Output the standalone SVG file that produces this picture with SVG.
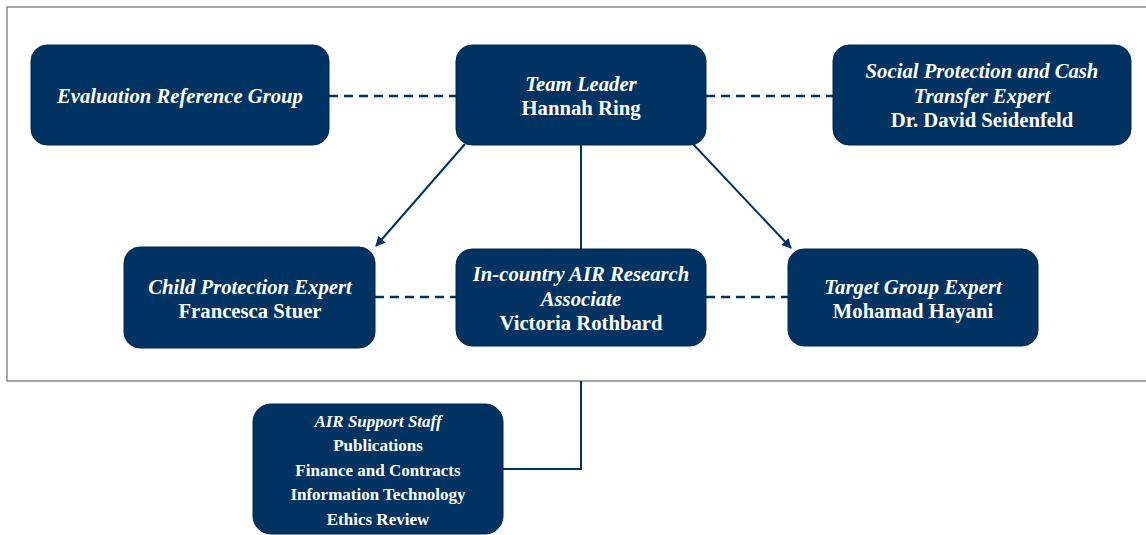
<svg xmlns="http://www.w3.org/2000/svg" width="1146" height="535" viewBox="0 0 1146 535">
<style>
.box{fill:#003361;stroke:#00284d;stroke-width:1}
.t{font-family:"Liberation Serif","Times New Roman",serif;fill:#fff;text-anchor:middle;font-weight:bold}
.i{font-style:italic}
.s{font-size:17px}
.m{font-size:20.7px}
.ln{stroke:#003361;stroke-width:2;fill:none}
.d{stroke:#003361;stroke-width:2.5;fill:none;stroke-dasharray:9 6}
</style>
<defs>
<marker id="ah" viewBox="0 0 10 10" refX="9" refY="5" markerWidth="5" markerHeight="5" orient="auto" markerUnits="strokeWidth">
<path d="M0,0 L10,5 L0,10 z" fill="#003361"/>
</marker>
</defs>
<rect x="7" y="7" width="1150" height="374" fill="#fff" stroke="#8a8a8a" stroke-width="1.5"/>
<g id="connectors">
<line class="d" x1="329" y1="96" x2="456" y2="96"/>
<line class="d" x1="706" y1="96" x2="833" y2="96"/>
<line class="d" x1="375" y1="297" x2="456" y2="297"/>
<line class="d" x1="706" y1="297" x2="788" y2="297"/>
<line class="ln" x1="465" y1="144" x2="376" y2="246" marker-end="url(#ah)"/>
<line class="ln" x1="693" y1="144" x2="791" y2="248" marker-end="url(#ah)"/>
<line class="ln" x1="581" y1="145" x2="581" y2="249"/>
<polyline class="ln" points="581,381 581,469 503,469"/>
</g>
<g id="n-erg">
<rect class="box" x="31" y="45" width="298" height="100" rx="16"/>
<text class="t i m" x="180" y="103">Evaluation Reference Group</text>
</g>
<g id="n-tl">
<rect class="box" x="456" y="45" width="250" height="100" rx="16"/>
<text class="t i m" x="581" y="91">Team Leader</text>
<text class="t m" x="581" y="115">Hannah Ring</text>
</g>
<g id="n-sp">
<rect class="box" x="833" y="45" width="298" height="100" rx="16"/>
<text class="t i m" x="982" y="78">Social Protection and Cash</text>
<text class="t i m" x="982" y="103">Transfer Expert</text>
<text class="t m" x="982" y="127">Dr. David Seidenfeld</text>
</g>
<g id="n-cp">
<rect class="box" x="124" y="247" width="251" height="101" rx="16"/>
<text class="t i m" x="250" y="294">Child Protection Expert</text>
<text class="t m" x="250" y="318">Francesca Stuer</text>
</g>
<g id="n-ic">
<rect class="box" x="456" y="249" width="250" height="97" rx="16"/>
<text class="t i m" x="581" y="281">In-country AIR Research</text>
<text class="t i m" x="581" y="306">Associate</text>
<text class="t m" x="581" y="330">Victoria Rothbard</text>
</g>
<g id="n-tg">
<rect class="box" x="788" y="249" width="250" height="97" rx="16"/>
<text class="t i m" x="913" y="294">Target Group Expert</text>
<text class="t m" x="913" y="318">Mohamad Hayani</text>
</g>
<g id="n-air">
<rect class="box" x="253" y="404" width="250" height="130" rx="18"/>
<text class="t i s" x="378" y="427">AIR Support Staff</text>
<text class="t s" x="378" y="451">Publications</text>
<text class="t s" x="378" y="476">Finance and Contracts</text>
<text class="t s" x="378" y="500">Information Technology</text>
<text class="t s" x="378" y="525">Ethics Review</text>
</g>
</svg>
